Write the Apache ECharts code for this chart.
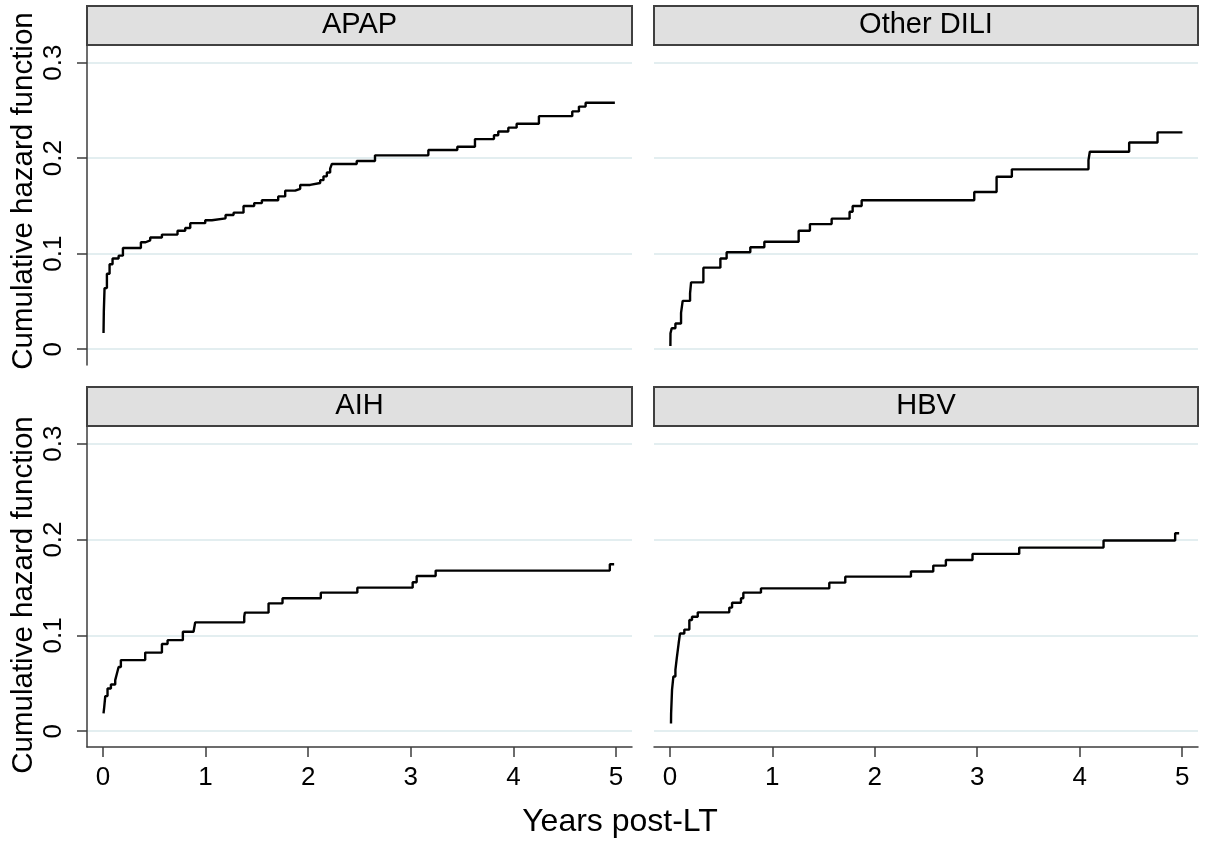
<!DOCTYPE html>
<html>
<head>
<meta charset="utf-8">
<title>Cumulative hazard function</title>
<script src="https://cdn.jsdelivr.net/npm/echarts@6/dist/echarts.min.js"></script>
<style>
  html, body { margin: 0; padding: 0; background: #fff; }
  #main { width: 1205px; height: 842px; }
</style>
</head>
<body>
<div id="main"></div>
<script>
// 各面板的步阶数据（时间：年；值：累积风险）
var panelNames = ['APAP', 'Other DILI', 'AIH', 'HBV']

var apapTime = [0.006, 0.009, 0.016, 0.039, 0.065, 0.094, 0.153, 0.195, 0.37, 0.416, 0.461, 0.575, 0.727, 0.802, 0.851, 0.997, 1.062, 1.195, 1.273, 1.37, 1.474, 1.549, 1.708, 1.776, 1.873, 1.922, 2.019, 2.117, 2.149, 2.182, 2.214, 2.231, 2.473, 2.651, 3.171, 3.453, 3.625, 3.81, 3.852, 3.95, 4.031, 4.248, 4.573, 4.638, 4.703, 4.988]
var apapHazard = [0.017, 0.040, 0.064, 0.079, 0.089, 0.095, 0.098, 0.106, 0.112, 0.114, 0.117, 0.120, 0.124, 0.127, 0.132, 0.135, 0.137, 0.1405, 0.143, 0.150, 0.153, 0.156, 0.160, 0.166, 0.168, 0.172, 0.174, 0.177, 0.181, 0.185, 0.189, 0.194, 0.197, 0.203, 0.2085, 0.212, 0.220, 0.224, 0.228, 0.232, 0.236, 0.244, 0.249, 0.254, 0.258, 0.258]

var diliTime = [0.005, 0.006, 0.018, 0.054, 0.109, 0.125, 0.197, 0.207, 0.327, 0.493, 0.554, 0.785, 0.922, 1.257, 1.367, 1.579, 1.754, 1.784, 1.872, 2.971, 3.189, 3.338, 4.086, 4.099, 4.483, 4.76, 5.003]
var diliHazard = [0.0035, 0.0167, 0.022, 0.027, 0.038, 0.0506, 0.0586, 0.070, 0.0854, 0.095, 0.1015, 0.1067, 0.1126, 0.124, 0.131, 0.1367, 0.144, 0.150, 0.156, 0.1646, 0.1806, 0.1883, 0.198, 0.2068, 0.2165, 0.227, 0.227]

var aihTime = [0.006, 0.013, 0.023, 0.045, 0.078, 0.12, 0.136, 0.153, 0.175, 0.412, 0.575, 0.63, 0.779, 0.883, 0.899, 1.377, 1.383, 1.614, 1.75, 2.123, 2.479, 3.018, 3.057, 3.242, 4.939, 4.981]
var aihHazard = [0.0185, 0.0254, 0.0366, 0.0446, 0.0488, 0.0533, 0.060, 0.067, 0.0742, 0.082, 0.091, 0.095, 0.1038, 0.1056, 0.1136, 0.1195, 0.1237, 0.1334, 0.1387, 0.1446, 0.1498, 0.1554, 0.162, 0.1676, 0.1742, 0.1742]

var hbvTime = [0.011, 0.012, 0.021, 0.034, 0.054, 0.067, 0.086, 0.099, 0.141, 0.19, 0.216, 0.272, 0.58, 0.607, 0.694, 0.717, 0.889, 1.556, 1.712, 2.353, 2.571, 2.694, 2.954, 3.41, 4.233, 4.932, 4.971]
var hbvHazard = [0.008, 0.0185, 0.043, 0.057, 0.064, 0.076, 0.092, 0.102, 0.106, 0.116, 0.1195, 0.124, 0.129, 0.134, 0.1387, 0.1446, 0.149, 0.155, 0.1613, 0.1666, 0.1728, 0.1787, 0.185, 0.1916, 0.199, 0.2066, 0.2066]

var xTicks = [0, 1, 2, 3, 4, 5]
var yTicks = [0, 0.1, 0.2, 0.3]

var FONT = 'Liberation Sans, Arial, sans-serif'
var AXIS_COLOR = '#3c3c3c'
var GRID_COLOR = '#e3eef0'

// 面板位置（左、上、宽、高）
var panels = [
  { left: 87, top: 45, width: 545, height: 320 },
  { left: 654, top: 45, width: 544, height: 320 },
  { left: 87, top: 426, width: 545, height: 321 },
  { left: 654, top: 426, width: 544, height: 321 }
]

function zip(xs, ys) {
  return xs.map(function(x, i) { return [x, ys[i]] })
}
var seriesData = [
  zip(apapTime, apapHazard),
  zip(diliTime, diliHazard),
  zip(aihTime, aihHazard),
  zip(hbvTime, hbvHazard)
]

var grids = [], xAxes = [], yAxes = [], series = [], graphics = []

panels.forEach(function(p, i) {
  var isLeft = i % 2 === 0
  var isBottom = i >= 2
  grids.push({ left: p.left, top: p.top, width: p.width, height: p.height, containLabel: false })

  xAxes.push({
    type: 'value', gridIndex: i, min: -0.155, max: 5.155,
    axisLine: { show: isBottom, onZero: false, lineStyle: { color: AXIS_COLOR, width: 1.5 } },
    axisTick: { show: isBottom, customValues: xTicks, length: 10, lineStyle: { color: AXIS_COLOR, width: 1.5 } },
    axisLabel: { show: isBottom, customValues: xTicks, margin: 18, fontSize: 26, color: '#000', fontFamily: FONT },
    splitLine: { show: false }
  })

  yAxes.push({
    type: 'value', gridIndex: i, min: -0.0165, max: 0.3185,
    axisLine: { show: isLeft, onZero: false, lineStyle: { color: AXIS_COLOR, width: 1.5 } },
    axisTick: { show: isLeft, customValues: yTicks, length: 10, lineStyle: { color: AXIS_COLOR, width: 1.5 } },
    axisLabel: {
      show: isLeft, customValues: yTicks, rotate: 90, margin: 20,
      fontSize: 26, color: '#000', fontFamily: FONT
    },
    splitLine: { show: true, lineStyle: { color: GRID_COLOR, width: 2 } }
  })

  series.push({
    type: 'line', xAxisIndex: i, yAxisIndex: i,
    step: 'end', showSymbol: false, silent: true,
    lineStyle: { color: '#000', width: 2.4 },
    data: seriesData[i]
  })

  // 面板标题栏
  graphics.push({
    type: 'rect',
    shape: { x: p.left, y: p.top - 39, width: p.width, height: 39 },
    style: { fill: '#e0e0e0', stroke: '#404040', lineWidth: 2 }
  })
  graphics.push({
    type: 'text',
    x: p.left + p.width / 2, y: p.top - 20,
    style: {
      text: panelNames[i], fill: '#000', font: '29px ' + FONT,
      textAlign: 'center', textVerticalAlign: 'middle'
    }
  })
})

// 纵轴标题
;[191, 595].forEach(function(cy) {
  graphics.push({
    type: 'text', x: 24, y: cy, rotation: Math.PI / 2,
    style: {
      text: 'Cumulative hazard function', fill: '#000', font: '29.5px ' + FONT,
      textAlign: 'center', textVerticalAlign: 'middle'
    }
  })
})

// 横轴标题
graphics.push({
  type: 'text', x: 620, y: 822,
  style: {
    text: 'Years post-LT', fill: '#000', font: '32px ' + FONT,
    textAlign: 'center', textVerticalAlign: 'middle'
  }
})

var myChart = echarts.init(document.getElementById('main'), null, { renderer: 'canvas' })
myChart.setOption({
  animation: false,
  backgroundColor: '#fff',
  grid: grids,
  xAxis: xAxes,
  yAxis: yAxes,
  series: series,
  graphic: graphics
})
</script>
</body>
</html>
